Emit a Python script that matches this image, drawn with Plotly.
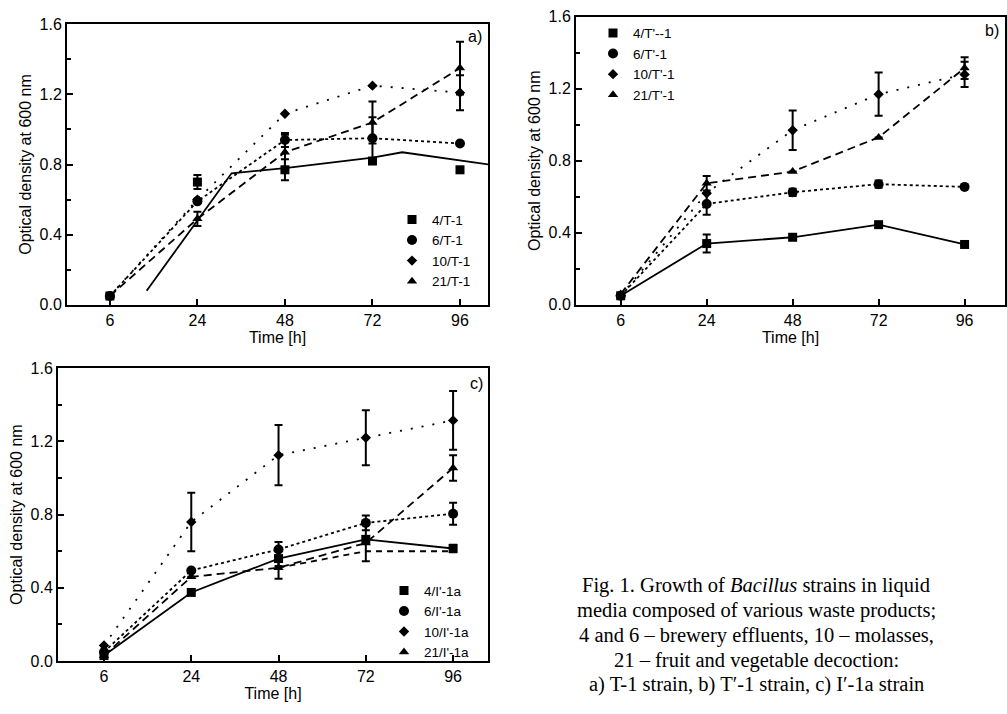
import plotly.graph_objects as go

times = [6, 24, 48, 72, 96]
pos = list(range(len(times)))

# ---------- panel a) T-1 ----------
a_names = ["4/T-1", "6/T-1", "10/T-1", "21/T-1"]
a4 = [0.05, 0.70, 0.77, 0.82, 0.77]
a4_err = [None, 0.04, 0.06, None, None]
a6 = [0.05, 0.59, 0.94, 0.95, 0.92]
a6_err = [None, None, 0.04, 0.12, None]
a10 = [0.05, 0.60, 1.09, 1.25, 1.21]
a10_err = [None, None, None, None, 0.10]
a21 = [0.05, 0.49, 0.87, 1.04, 1.35]
a21_err = [None, 0.04, 0.10, 0.12, 0.15]
# the solid line of 4/T-1 is drawn offset from its markers in the original
a4_line_x = [0.42, 1.39, 2.0, 3.0, 3.34, 4.33]
a4_line_y = [0.08, 0.75, 0.78, 0.84, 0.87, 0.80]

# ---------- panel b) T'-1 ----------
b_names = ["4/T'--1", "6/T'-1", "10/T'-1", "21/T'-1"]
b4 = [0.05, 0.34, 0.375, 0.445, 0.335]
b4_err = [None, 0.05, None, None, None]
b6 = [0.05, 0.56, 0.625, 0.67, 0.655]
b6_err = [None, 0.06, 0.02, 0.02, None]
b10 = [0.05, 0.62, 0.97, 1.17, 1.28]
b10_err = [None, None, 0.11, 0.12, 0.07]
b21 = [0.06, 0.675, 0.74, 0.93, 1.315]
b21_err = [None, 0.04, None, None, 0.06]

# ---------- panel c) I'-1a ----------
c_names = ["4/I'-1a", "6/I'-1a", "10/I'-1a", "21/I'-1a"]
c4 = [0.03, 0.375, 0.56, 0.665, 0.615]
c4_err = [None, None, 0.04, None, 0.02]
c6 = [0.05, 0.495, 0.61, 0.755, 0.805]
c6_err = [None, None, 0.04, 0.04, 0.06]
c10 = [0.085, 0.76, 1.125, 1.22, 1.315]
c10_err = [None, 0.16, 0.165, 0.15, 0.16]
c21 = [0.03, 0.46, 0.51, 0.645, 1.055]
c21_err = [None, None, 0.06, 0.10, 0.07]
# extra dashed segment visible in the original (21/I'-1a, second curve)
c21b = [None, None, 0.51, 0.60, 0.60]

symbols = ["square", "circle", "diamond", "triangle-up"]
msizes = [9, 10, 8, 9]
dashes = ["solid", "dot", "2px,9px", "8px,5px"]

FONT = "Liberation Sans, Arial, sans-serif"
fig = go.Figure()


def add_panel(vals, errs, names, xa, ya, legend, line_override=None):
    for i, (v, e, n) in enumerate(zip(vals, errs, names)):
        if line_override is not None and i == 0:
            lx, ly = line_override
        else:
            lx, ly = pos, v
        fig.add_trace(go.Scatter(
            x=lx, y=ly, mode="lines", xaxis=xa, yaxis=ya,
            line=dict(color="black", width=1.8, dash=dashes[i]),
            showlegend=False, hoverinfo="skip"))
        fig.add_trace(go.Scatter(
            x=pos, y=v, mode="markers", name=n, xaxis=xa, yaxis=ya,
            legend=legend,
            marker=dict(symbol=symbols[i], size=msizes[i], color="black"),
            error_y=dict(type="data", array=e, visible=True, color="black",
                         thickness=2, width=4),
            cliponaxis=False))


add_panel([a4, a6, a10, a21], [a4_err, a6_err, a10_err, a21_err], a_names,
          "x", "y", "legend", line_override=(a4_line_x, a4_line_y))
add_panel([b4, b6, b10, b21], [b4_err, b6_err, b10_err, b21_err], b_names,
          "x2", "y2", "legend2")
add_panel([c4, c6, c10, c21], [c4_err, c6_err, c10_err, c21_err], c_names,
          "x3", "y3", "legend3")
fig.add_trace(go.Scatter(x=pos, y=c21b, mode="lines", xaxis="x3", yaxis="y3",
                         line=dict(color="black", width=1.8, dash="6px,5px"),
                         showlegend=False, hoverinfo="skip"))

W, H = 1007, 714


def px(x):
    return x / W


def py(y):
    return 1 - y / H


axis_common = dict(showline=True, linecolor="black", linewidth=2, mirror=True,
                   ticks="inside", ticklen=6, tickwidth=1.5, tickcolor="black",
                   showgrid=False, zeroline=False,
                   tickfont=dict(family=FONT, size=16, color="black"))
xcommon = dict(axis_common, tickvals=pos, ticktext=[str(t) for t in times],
               title=dict(text="Time [h]", font=dict(family=FONT, size=16, color="black"),
                          standoff=0))
ycommon = dict(axis_common, range=[0, 1.6], tickvals=[0, 0.4, 0.8, 1.2, 1.6],
               tickformat=".1f",
               minor=dict(dtick=0.2, tick0=0, ticks="inside", ticklen=4,
                          tickcolor="black", tickwidth=1.5, showgrid=False),
               title=dict(text="Optical density at 600 nm",
                          font=dict(family=FONT, size=16, color="black"), standoff=4))

legend_common = dict(xanchor="left", yanchor="top", bgcolor="rgba(0,0,0,0)",
                     font=dict(family=FONT, size=13.5, color="black"),
                     tracegroupgap=0, itemwidth=30)

fig.update_layout(
    width=W, height=H, margin=dict(l=0, r=0, t=0, b=0),
    paper_bgcolor="white", plot_bgcolor="white",
    font=dict(family=FONT, color="black"),
    xaxis=dict(xcommon, domain=[px(67), px(488)], range=[-0.49, 4.32], anchor="y"),
    yaxis=dict(ycommon, domain=[py(304), py(16.7)], anchor="x"),
    xaxis2=dict(xcommon, domain=[px(576), px(1005)], range=[-0.52, 4.47], anchor="y2"),
    yaxis2=dict(ycommon, domain=[py(304), py(9)], anchor="x2"),
    xaxis3=dict(xcommon, domain=[px(58), px(488)], range=[-0.527, 4.40], anchor="y3"),
    yaxis3=dict(ycommon, domain=[py(669), py(369)], anchor="x3"),
    legend=dict(legend_common, x=px(392), y=py(201)),
    legend2=dict(legend_common, x=px(593), y=py(10)),
    legend3=dict(legend_common, x=px(384), y=py(581)),
)

annotations = [
    dict(text="a)", x=px(484), y=py(29)),
    dict(text="b)", x=px(1001), y=py(23)),
    dict(text="c)", x=px(485), y=py(385)),
]
for a in annotations:
    a.update(xref="paper", yref="paper", showarrow=False, xanchor="right",
             yanchor="middle", font=dict(family=FONT, size=16, color="black"))
    fig.add_annotation(**a)

caption = [
    "Fig. 1. Growth of <i>Bacillus</i> strains in liquid",
    "media composed of various waste products;",
    "4 and 6 – brewery effluents, 10 – molasses,",
    "21 – fruit and vegetable decoction:",
    "a) T-1 strain, b) T′-1 strain, c) I′-1a strain",
]
cap_y = [592, 617.5, 643, 668, 693]
for t, yy in zip(caption, cap_y):
    fig.add_annotation(text=t, x=px(756), y=py(yy), xref="paper", yref="paper",
                       showarrow=False, xanchor="center", yanchor="middle",
                       font=dict(family="Liberation Serif, Times New Roman, serif",
                                 size=20.5, color="black"))

fig.write_html("out.html", config={"displayModeBar": False},
               post_script="document.body.style.margin='0';")
